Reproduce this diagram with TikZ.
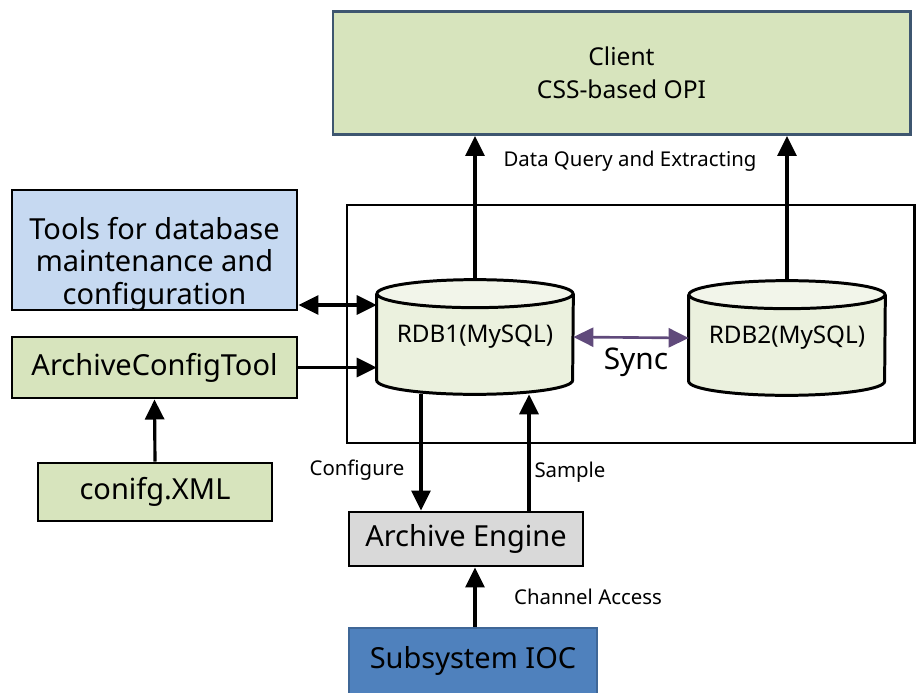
\documentclass[tikz,border=0pt]{standalone}
\usepackage{fontspec}
\setmainfont{Noto Sans}
\usetikzlibrary{arrows.meta,backgrounds}
\definecolor{boxgreen}{HTML}{D7E4BD}
\definecolor{boxblue}{HTML}{C6D9F1}
\definecolor{boxgray}{HTML}{D9D9D9}
\definecolor{iocblue}{HTML}{4F81BD}
\definecolor{dbfill}{HTML}{EBF1DE}
\definecolor{dbtop}{HTML}{F2F5EA}
\definecolor{syncpurple}{HTML}{604A7B}
\definecolor{clientline}{HTML}{3E5670}
\tikzset{
	block/.style={rectangle, draw, line width=1.7pt, align=center, inner sep=0pt, font=\fontsize{16.5}{18.5}\selectfont},
	dbase/.style={rectangle, inner sep=0pt, font=\fontsize{13.8}{16}\selectfont},
	lbl/.style={font=\fontsize{11.6}{13}\selectfont},
	arr/.style={line width=1.8pt, -{Triangle[length=4mm,width=3.8mm]}},
	biarr/.style={line width=1.8pt, {Triangle[length=4mm,width=3.8mm]}-{Triangle[length=4mm,width=3.8mm]}}
}
% cylinder round a named node: body, bottom rim and top lid
\newcommand{\dbdraw}[1]{%
	\fill[dbfill] ([yshift=-0.28cm]#1.north west) rectangle ([yshift=0.28cm]#1.south east);
	\fill[dbfill] ([yshift=0.28cm]#1.south) ellipse [x radius=1.96cm, y radius=0.28cm];
	\draw[line width=1.7pt] ([yshift=-0.28cm]#1.north west) -- ([yshift=0.28cm]#1.south west)
		arc[start angle=180, end angle=360, x radius=1.96cm, y radius=0.28cm] -- ([yshift=-0.28cm]#1.north east);
	\draw[line width=1.7pt, fill=dbtop] ([yshift=-0.28cm]#1.north) ellipse [x radius=1.96cm, y radius=0.28cm];
}
\begin{document}
\begin{tikzpicture}[x=0.02cm, y=-0.02cm]
	\useasboundingbox (0,0) rectangle (917,693);
	% Client on top
	\node[block, draw=clientline, fill=boxgreen, font=\fontsize{14}{18.5}\selectfont, minimum width=577*0.02cm, minimum height=123*0.02cm] (client) at (621.5,73) {Client\\CSS-based OPI};
	
	% Server frame with the two databases
	\node[rectangle, draw, line width=1.7pt, minimum width=567*0.02cm, minimum height=238*0.02cm] (server) at (630.5,324) {};
	\node[dbase, minimum width=196*0.02cm, minimum height=114*0.02cm] (rdb1) at (475,337) {\raisebox{-0.1cm}{RDB1(MySQL)}};
	\node[dbase, minimum width=196*0.02cm, minimum height=114*0.02cm] (rdb2) at (787,338) {\raisebox{-0.1cm}{RDB2(MySQL)}};
	\begin{scope}[on background layer]
		\dbdraw{rdb1}
		\dbdraw{rdb2}
	\end{scope}
	
	% Tools on the left
	\node[block, fill=boxblue, minimum width=285*0.02cm, minimum height=120*0.02cm,
		label={[align=center, font=\fontsize{16.5}{18.5}\selectfont, yshift=-0.28cm]center:Tools for database\\maintenance and\\configuration}] (tools) at (154.5,250) {};
	\node[block, fill=boxgreen, minimum width=285*0.02cm, minimum height=61*0.02cm] (cfgtool) at (154.5,367.5) {ArchiveConfigTool};
	\node[block, fill=boxgreen, minimum width=234*0.02cm, minimum height=58*0.02cm] (xml) at (155,492) {conifg.XML};
	
	% Engine and IOC below
	\node[block, fill=boxgray, minimum width=234*0.02cm, minimum height=54*0.02cm] (engine) at (466,539) {Archive Engine};
	\node[block, draw=iocblue!80!black, fill=iocblue, minimum width=248*0.02cm, minimum height=66*0.02cm] (ioc) at (473,661) {Subsystem IOC};
	
	% Connections
	\draw[arr] (rdb1.north) -- (rdb1.north |- client.south);
	\draw[arr] (rdb2.north) -- (rdb2.north |- client.south);
	\node[lbl] (query) at (630,161) {Data Query and Extracting};
	\draw[biarr] (tools.east |- 0,305) -- (rdb1.west |- 0,305);
	\draw[arr] (cfgtool.east) -- (rdb1.west |- cfgtool.east);
	\draw[arr] (xml.north) -- (cfgtool.south);
	\draw[biarr, syncpurple, line width=1.5pt] (rdb1.east) -- (rdb2.west);
	\node[font=\fontsize{17}{20}\selectfont] (sync) at (636,362) {Sync};
	\draw[arr] (rdb1.south -| 421,0) -- (421,0 |- engine.north);
	\node[lbl] (configure) at (357,470) {Configure};
	\draw[arr] (529,0 |- engine.north) -- (529,0 |- rdb1.south);
	\node[lbl] (sample) at (570,472) {Sample};
	\draw[arr] (ioc.north -| 475,0) -- (475,0 |- engine.south);
	\node[lbl] (access) at (588,597) {Channel Access};
\end{tikzpicture}
\end{document}
